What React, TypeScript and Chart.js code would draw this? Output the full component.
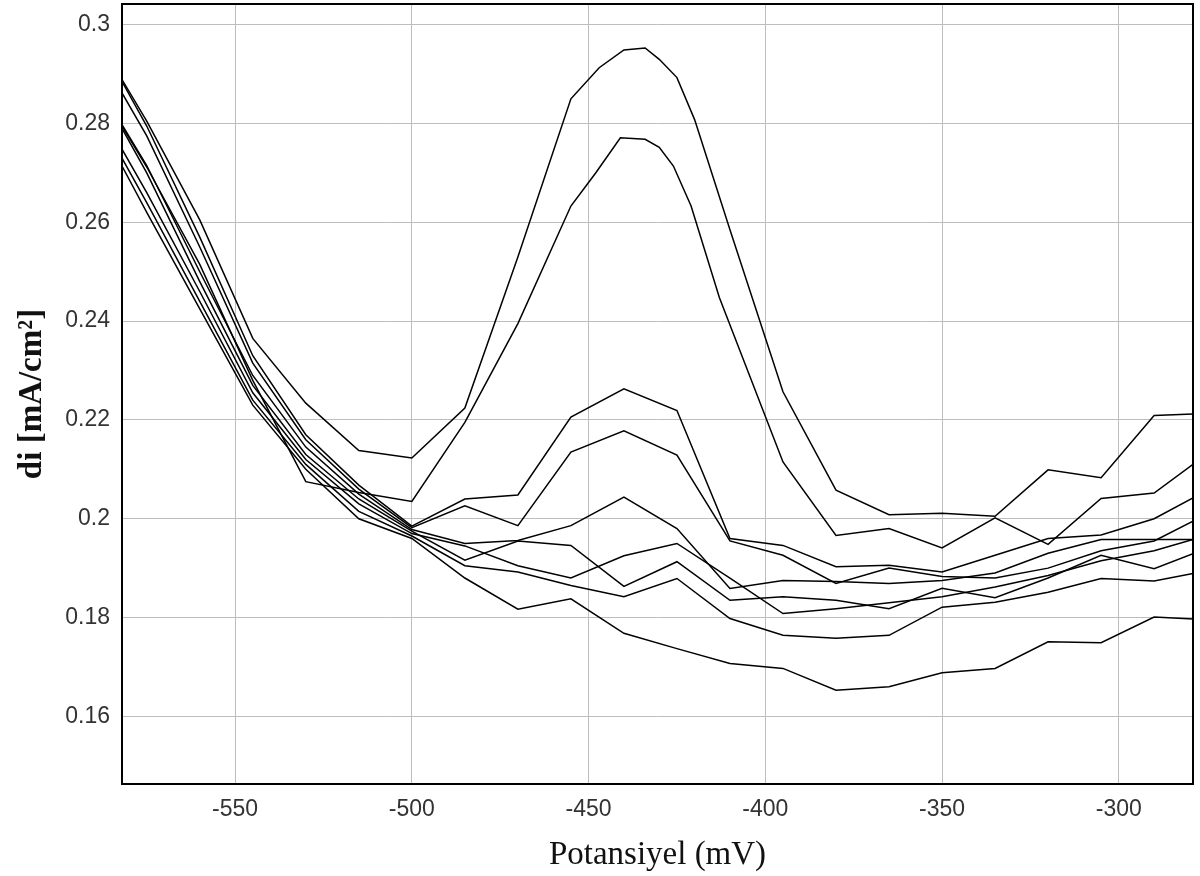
import React, { useEffect, useRef } from "react";
import { Chart, registerables } from "chart.js";

Chart.register(...registerables);

// Axis ticks
const xTickValues = [-550, -500, -450, -400, -350, -300];
const yTickValues = [0.16, 0.18, 0.2, 0.22, 0.24, 0.26, 0.28, 0.3];

// Shared potential grid (mV) for most curves
const xMain = [-582, -575, -560, -545, -530, -515, -500, -485, -470, -455, -440, -425, -410, -395, -380, -365, -350, -335, -320, -305, -290, -279];

// Curves with the large peaks (own x grid, finer near the peak)
const xA = [-582, -575, -560, -545, -530, -515, -500, -485, -470, -455, -447, -440, -434, -430, -425, -420, -410, -395, -380, -365, -350, -335, -320, -305, -290, -279];
const yA = [0.2889, 0.2805, 0.2605, 0.2365, 0.2234, 0.2138, 0.2123, 0.2224, 0.253, 0.285, 0.2913, 0.2949, 0.2953, 0.293, 0.2893, 0.2808, 0.2585, 0.2257, 0.2058, 0.2008, 0.2011, 0.2005, 0.2099, 0.2083, 0.2209, 0.2212];

const xB = [-582, -575, -560, -545, -530, -515, -500, -485, -470, -455, -448, -441, -434, -430, -426, -421, -413, -395, -380, -365, -350, -335, -320, -305, -290, -279];
const yB = [0.2795, 0.2712, 0.2515, 0.228, 0.2075, 0.2053, 0.2035, 0.2195, 0.2395, 0.2633, 0.27, 0.2771, 0.2768, 0.2752, 0.2714, 0.2633, 0.2448, 0.2115, 0.1966, 0.198, 0.1941, 0.2002, 0.1948, 0.2041, 0.2052, 0.211];

// Other curves on the shared grid
const yC = [0.2885, 0.2795, 0.257, 0.233, 0.217, 0.2068, 0.1985, 0.204, 0.2048, 0.2206, 0.2263, 0.2219, 0.196, 0.1946, 0.1903, 0.1906, 0.1892, 0.1926, 0.196, 0.1967, 0.2, 0.2042];
const yD = [0.2862, 0.2775, 0.255, 0.2315, 0.216, 0.206, 0.1982, 0.2026, 0.1986, 0.2135, 0.2178, 0.2129, 0.1955, 0.1926, 0.1869, 0.19, 0.1883, 0.188, 0.19, 0.1935, 0.1955, 0.1995];
const yE = [0.2798, 0.2715, 0.25, 0.229, 0.2145, 0.205, 0.1978, 0.195, 0.1956, 0.1986, 0.2044, 0.198, 0.1859, 0.1875, 0.1873, 0.1869, 0.1875, 0.189, 0.193, 0.1958, 0.1958, 0.1958];
const yF = [0.279, 0.27, 0.248, 0.227, 0.213, 0.204, 0.1975, 0.1916, 0.1955, 0.1946, 0.1863, 0.1913, 0.1835, 0.1842, 0.1835, 0.1818, 0.1859, 0.184, 0.188, 0.1926, 0.1899, 0.1929];
const yG = [0.2748, 0.266, 0.246, 0.2255, 0.212, 0.203, 0.197, 0.1945, 0.1905, 0.188, 0.1925, 0.195, 0.188, 0.1808, 0.1818, 0.183, 0.1842, 0.1862, 0.1885, 0.1915, 0.1935, 0.1958];
const yI = [0.273, 0.264, 0.244, 0.224, 0.211, 0.2015, 0.1965, 0.1905, 0.1892, 0.1865, 0.1842, 0.1879, 0.1798, 0.1764, 0.1758, 0.1764, 0.1821, 0.1831, 0.1851, 0.1879, 0.1874, 0.1889];
const yJ = [0.2714, 0.262, 0.2425, 0.223, 0.21, 0.2, 0.196, 0.188, 0.1817, 0.1838, 0.1768, 0.1737, 0.1707, 0.1697, 0.1653, 0.166, 0.1688, 0.1697, 0.1751, 0.1749, 0.1801, 0.1797];

const xMin = -582;
const xMax = -279;
const yMin = 0.1463;
const yMax = 0.3042;

const toPoints = (xs: number[], ys: number[]) => xs.map((x, i) => ({ x, y: ys[i] }));

export default function App() {
  const ref = useRef<HTMLCanvasElement>(null);

  useEffect(() => {
    document.body.style.margin = "0";
    const canvas = ref.current;
    if (!canvas) return;

    const series = [
      toPoints(xA, yA),
      toPoints(xB, yB),
      toPoints(xMain, yC),
      toPoints(xMain, yD),
      toPoints(xMain, yE),
      toPoints(xMain, yF),
      toPoints(xMain, yG),
      toPoints(xMain, yI),
      toPoints(xMain, yJ),
    ];

    const framePlugin = {
      id: "frame",
      afterDatasetsDraw(chart: any) {
        const { ctx, chartArea: a } = chart;
        ctx.save();
        ctx.strokeStyle = "#000";
        ctx.lineWidth = 2;
        ctx.strokeRect(a.left, a.top, a.right - a.left, a.bottom - a.top);
        ctx.restore();
      },
    };

    const chart = new Chart(canvas, {
      type: "line",
      data: {
        datasets: series.map((d) => ({
          data: d,
          borderColor: "#000",
          borderWidth: 1.5,
          pointRadius: 0,
          tension: 0,
          fill: false,
        })),
      },
      options: {
        animation: false,
        responsive: false,
        layout: { padding: { top: 4, right: 7, left: 0, bottom: 0 } },
        plugins: {
          legend: { display: false },
          tooltip: { enabled: false },
        },
        scales: {
          x: {
            type: "linear",
            min: xMin,
            max: xMax,
            afterBuildTicks: (s: any) => {
              s.ticks = xTickValues.map((v) => ({ value: v }));
            },
            afterFit: (s: any) => {
              s.height = 92;
              s.paddingLeft = 0;
              s.paddingRight = 0;
            },
            grid: { color: "#bdbdbd", lineWidth: 1, drawTicks: false },
            border: { display: false },
            ticks: {
              padding: 12,
              color: "#333",
              maxRotation: 0,
              autoSkip: false,
              font: { family: "'Liberation Sans', Arial, sans-serif", size: 23 },
              callback: (v: any) => String(v),
            },
            title: {
              display: true,
              text: "Potansiyel (mV)",
              color: "#111",
              font: { family: "'Liberation Serif', 'Times New Roman', serif", size: 33, lineHeight: 1.2 },
              padding: { top: 0, bottom: 1 },
            },
          },
          y: {
            type: "linear",
            min: yMin,
            max: yMax,
            afterBuildTicks: (s: any) => {
              s.ticks = yTickValues.map((v) => ({ value: v }));
            },
            afterFit: (s: any) => {
              s.width = 122;
              s.paddingTop = 0;
              s.paddingBottom = 0;
            },
            grid: { color: "#bdbdbd", lineWidth: 1, drawTicks: false },
            border: { display: false },
            ticks: {
              padding: 12,
              color: "#333",
              autoSkip: false,
              font: { family: "'Liberation Sans', Arial, sans-serif", size: 23 },
              callback: (v: any) => String(parseFloat(Number(v).toFixed(2))),
            },
            title: {
              display: true,
              text: "di [mA/cm²]",
              color: "#111",
              font: { family: "'Liberation Serif', 'Times New Roman', serif", size: 33, weight: "bold", lineHeight: 1.2 },
              padding: { top: 13, bottom: 0 },
            },
          },
        },
      },
      plugins: [framePlugin],
    });

    return () => chart.destroy();
  }, []);

  return (
    <div style={{ width: 1200, height: 876 }}>
      <canvas ref={ref} width={1200} height={876} style={{ display: "block" }} />
    </div>
  );
}
